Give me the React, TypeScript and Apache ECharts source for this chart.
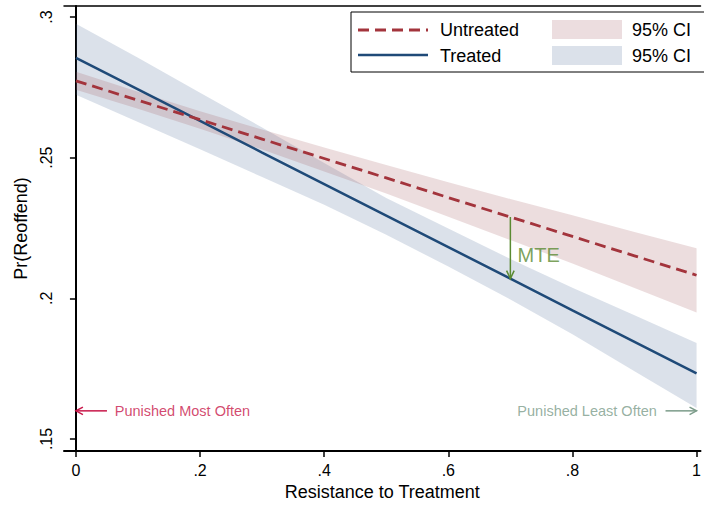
import React, { useEffect, useRef } from "react";
import * as echarts from "echarts";

const xs = [0, 0.1, 0.2, 0.3, 0.4, 0.5, 0.6, 0.7, 0.8, 0.9, 1];
const untreated = [0.2773, 0.2704, 0.2635, 0.2566, 0.2497, 0.2428, 0.2358, 0.2289, 0.222, 0.2151, 0.2082];
const untreatedLo = [0.2741, 0.2674, 0.2603, 0.2529, 0.2451, 0.2373, 0.229, 0.2207, 0.2124, 0.2037, 0.195];
const untreatedHi = [0.2805, 0.2734, 0.2665, 0.26, 0.2536, 0.2474, 0.2413, 0.2353, 0.2295, 0.2236, 0.2178];
const treated = [0.2855, 0.2743, 0.2631, 0.2518, 0.2406, 0.2294, 0.2182, 0.207, 0.1957, 0.1845, 0.1733];
const treatedLo = [0.2724, 0.2627, 0.253, 0.2431, 0.2333, 0.2226, 0.2113, 0.1996, 0.1872, 0.1741, 0.161];
const treatedHi = [0.2976, 0.2855, 0.2731, 0.2607, 0.2481, 0.2357, 0.2248, 0.214, 0.2038, 0.194, 0.1841];

const xTicks = [0, 0.2, 0.4, 0.6, 0.8, 1];
const yTicks = [0.15, 0.2, 0.25, 0.3];

const mteX = 0.7;
const mteIdx = 7;
const arrowY = 0.16;
// arrows: [x1, y1, x2, y2] (tail -> head)
const arrows = [
  [mteX, untreated[mteIdx], mteX, treated[mteIdx]],
  [0.05, arrowY, 0, arrowY],
  [0.95, arrowY, 1, arrowY],
];
const arrowColors = ["#5a8a32", "#c8184a", "#7c9c8a"];

const FONT = "'Liberation Sans', Arial, Helvetica, sans-serif";
const RED = "#a3343c";
const BLUE = "#1f4a78";
const PINK_FILL = "rgba(160,85,90,0.2)";
const BLUE_FILL = "rgba(75,105,150,0.2)";
const PINK_SOLID = "#ecdddf";
const BLUE_SOLID = "#dbe1ea";

const fmt = (v: number) => {
  if (v === 0) return "0";
  if (v === 1) return "1";
  return String(v).replace(/^0/, "");
};

const bandSeries = (lo: number[], hi: number[], color: string, z: number) => ({
  type: "custom",
  silent: true,
  z,
  data: xs.map((x, i) => [x, lo[i], hi[i]]),
  encode: { x: 0, y: [1, 2] },
  renderItem: (params: any, api: any) => {
    if (params.dataIndex !== 0) return null;
    const upper = xs.map((x, i) => api.coord([x, hi[i]]));
    const lower = xs.map((x, i) => api.coord([x, lo[i]])).reverse();
    return {
      type: "polygon",
      shape: { points: upper.concat(lower) },
      style: { fill: color },
    };
  },
});

export default function App() {
  const ref = useRef<HTMLDivElement>(null);
  useEffect(() => {
    if (!ref.current) return;
    const chart = echarts.init(ref.current, undefined, { renderer: "svg" });
    const pair = (arr: number[]) => xs.map((x, i) => [x, arr[i]]);
    const option: any = {
      animation: false,
      textStyle: { fontFamily: FONT },
      grid: { left: 64, right: 0, top: 6, bottom: 55 },
      xAxis: [
        {
          type: "value",
          min: -0.01923,
          max: 1.00641,
          axisLine: { show: true, lineStyle: { color: "#000", width: 2 } },
          axisTick: { show: true, customValues: xTicks, length: 6, lineStyle: { color: "#000", width: 1.5 } },
          axisLabel: { customValues: xTicks, formatter: fmt, color: "#000", fontSize: 16, margin: 11, fontFamily: FONT },
          splitLine: { show: false },
          name: "Resistance to Treatment",
          nameLocation: "middle",
          nameGap: 32,
          nameTextStyle: { fontSize: 18, color: "#000", fontFamily: FONT },
        },
        {
          type: "value",
          position: "top",
          min: -0.01923,
          max: 1.00641,
          axisLine: { show: true, lineStyle: { color: "#000", width: 1.5 } },
          axisTick: { show: false },
          axisLabel: { show: false },
          splitLine: { show: false },
        },
      ],
      yAxis: {
        type: "value",
        min: 0.14573,
        max: 0.30391,
        axisLine: { show: true, lineStyle: { color: "#000", width: 2 } },
        axisTick: { show: true, customValues: yTicks, length: 6, lineStyle: { color: "#000", width: 1.5 } },
        axisLabel: { customValues: yTicks, formatter: fmt, color: "#000", fontSize: 16, margin: 10, rotate: 90, fontFamily: FONT },
        splitLine: { show: false },
        name: "Pr(Reoffend)",
        nameLocation: "middle",
        nameGap: 32,
        nameTextStyle: { fontSize: 18, color: "#000", fontFamily: FONT },
      },
      series: [
        bandSeries(treatedLo, treatedHi, BLUE_FILL, 1),
        bandSeries(untreatedLo, untreatedHi, PINK_FILL, 2),
        {
          name: "Treated", type: "line", data: pair(treated), symbol: "none",
          lineStyle: { color: BLUE, width: 2.5 }, z: 4,
        },
        {
          name: "Untreated", type: "line", data: pair(untreated), symbol: "none",
          lineStyle: { color: RED, width: 2.8, type: [11, 6] }, z: 5,
        },
        {
          type: "custom",
          data: arrows,
          encode: { x: [0, 2], y: [1, 3] },
          z: 6,
          silent: true,
          renderItem: (params: any, api: any) => {
            const p1 = api.coord([api.value(0), api.value(1)]);
            const p2 = api.coord([api.value(2), api.value(3)]);
            const dx = p2[0] - p1[0];
            const dy = p2[1] - p1[1];
            const len = Math.sqrt(dx * dx + dy * dy) || 1;
            const ux = dx / len, uy = dy / len;
            const hl = params.dataIndex === 0 ? 8 : 7;
            const hw = 3.8;
            const bx = p2[0] - ux * hl, by = p2[1] - uy * hl;
            const color = arrowColors[params.dataIndex];
            return {
              type: "group",
              children: [
                { type: "line", shape: { x1: p1[0], y1: p1[1], x2: p2[0], y2: p2[1] }, style: { stroke: color, lineWidth: 1.5 } },
                {
                  type: "polyline",
                  shape: { points: [[bx - uy * hw, by + ux * hw], [p2[0], p2[1]], [bx + uy * hw, by - ux * hw]] },
                  style: { stroke: color, lineWidth: 1.5, fill: "none" },
                },
              ],
            };
          },
        },
        {
          type: "scatter",
          symbolSize: 0,
          silent: true,
          z: 7,
          data: [
            { value: [0.0625, arrowY], label: { show: true, position: "right", distance: 0, formatter: "Punished Most Often", color: "#c8184a", fontSize: 14.5, fontFamily: FONT } },
            { value: [0.936, arrowY], label: { show: true, position: "left", distance: 0, formatter: "Punished Least Often", color: "#7c9c8a", fontSize: 14.5, fontFamily: FONT } },
            { value: [0.7115, 0.2155], label: { show: true, position: "right", distance: 0, formatter: "MTE", color: "#5a8a32", fontSize: 20, fontFamily: FONT } },
          ],
        },
      ],
      graphic: [
        {
          type: "group",
          z: 100,
          children: [
            { type: "rect", shape: { x: 351, y: 12, width: 354, height: 60 }, style: { fill: "#fff", stroke: "#000", lineWidth: 1 } },
            { type: "line", shape: { x1: 358, y1: 30, x2: 428, y2: 30 }, style: { stroke: RED, lineWidth: 2.8, lineDash: [11, 6] } },
            { type: "text", x: 440, y: 30, style: { text: "Untreated", fontSize: 18, fontFamily: FONT, fill: "#000", verticalAlign: "middle" } },
            { type: "rect", shape: { x: 552, y: 20, width: 70, height: 19 }, style: { fill: PINK_SOLID } },
            { type: "text", x: 632, y: 30, style: { text: "95% CI", fontSize: 18, fontFamily: FONT, fill: "#000", verticalAlign: "middle" } },
            { type: "line", shape: { x1: 358, y1: 55, x2: 428, y2: 55 }, style: { stroke: BLUE, lineWidth: 2.5 } },
            { type: "text", x: 440, y: 55.5, style: { text: "Treated", fontSize: 18, fontFamily: FONT, fill: "#000", verticalAlign: "middle" } },
            { type: "rect", shape: { x: 552, y: 46, width: 70, height: 19 }, style: { fill: BLUE_SOLID } },
            { type: "text", x: 632, y: 55.5, style: { text: "95% CI", fontSize: 18, fontFamily: FONT, fill: "#000", verticalAlign: "middle" } },
          ],
        },
      ],
    };
    chart.setOption(option);
    return () => chart.dispose();
  }, []);
  return <div ref={ref} style={{ width: 704, height: 506, position: "absolute", left: 0, top: 0 }} />;
}
